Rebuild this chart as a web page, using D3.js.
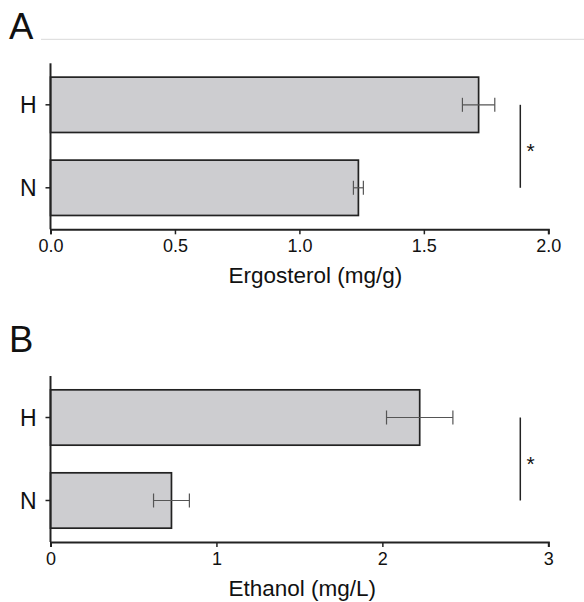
<!DOCTYPE html>
<html>
<head>
<meta charset="utf-8">
<script src="https://cdn.jsdelivr.net/npm/d3@7"></script>
<style>
  html, body { margin: 0; padding: 0; background: #fff; }
  svg { display: block; }
  text { font-family: "Liberation Sans", Arial, Helvetica, sans-serif; }
</style>
</head>
<body>
<svg id="chart" width="584" height="602"></svg>
<script>
// ---- data ----
const categories = ["H", "N"];
const ergosterol = [1.72, 1.237];
const ergosterolErr = [0.065, 0.02];
const ethanol = [2.225, 0.729];
const ethanolErr = [0.2, 0.108];
const ticksA = [0, 0.5, 1.0, 1.5, 2.0];
const ticksB = [0, 1, 2, 3];
const panelLabels = ["A", "B"];
const axisTitles = ["Ergosterol (mg/g)", "Ethanol (mg/L)"];
const sigMark = "*";

const svg = d3.select("#chart");
const ink = "#222";

const panels = [
  { label: panelLabels[0], values: ergosterol, errs: ergosterolErr, ticks: ticksA, fmt: d3.format(".1f"),
    domain: [0, 2], title: axisTitles[0], top: 63.3, rule: true },
  { label: panelLabels[1], values: ethanol, errs: ethanolErr, ticks: ticksB, fmt: d3.format("d"),
    domain: [0, 3], title: axisTitles[1], top: 376, rule: false }
];

const left = 50.5, right = 548.3, plotH = 166;

panels.forEach((p, i) => {
  const g = svg.append("g");
  const x = d3.scaleLinear().domain(p.domain).range([left, right]);
  const y = d3.scaleBand().domain(categories).range([p.top, p.top + plotH])
    .paddingInner(0.333).paddingOuter(0.1667);
  const bottom = p.top + plotH;

  // panel letter
  g.append("text").attr("x", 9).attr("y", p.top - 24.3)
    .attr("font-size", 36.5).attr("fill", "#111").text(p.label);
  if (p.rule) {
    g.append("line").attr("x1", 41).attr("x2", 584)
      .attr("y1", p.top - 24).attr("y2", p.top - 24)
      .attr("stroke", "#d9d9d9").attr("stroke-width", 1);
  }

  // bars
  g.selectAll("rect.bar").data(categories).join("rect")
    .attr("class", "bar")
    .attr("x", x(0))
    .attr("y", d => y(d))
    .attr("width", (d, k) => x(p.values[k]) - x(0))
    .attr("height", y.bandwidth())
    .attr("fill", "#cdcdd0")
    .attr("stroke", ink).attr("stroke-width", 1.7);

  // error bars
  const eb = g.selectAll("g.err").data(categories).join("g").attr("class", "err")
    .attr("stroke", "#555").attr("stroke-width", 1.2);
  eb.append("line")
    .attr("x1", (d, k) => x(p.values[k] - p.errs[k]))
    .attr("x2", (d, k) => x(p.values[k] + p.errs[k]))
    .attr("y1", d => y(d) + y.bandwidth() / 2)
    .attr("y2", d => y(d) + y.bandwidth() / 2);
  [-1, 1].forEach(s => {
    eb.append("line")
      .attr("x1", (d, k) => x(p.values[k] + s * p.errs[k]))
      .attr("x2", (d, k) => x(p.values[k] + s * p.errs[k]))
      .attr("y1", d => y(d) + y.bandwidth() / 2 - 7)
      .attr("y2", d => y(d) + y.bandwidth() / 2 + 7);
  });

  // axes
  const xAxis = d3.axisBottom(x).tickValues(p.ticks).tickFormat(p.fmt)
    .tickSizeOuter(0).tickSize(5).tickPadding(5);
  const xg = g.append("g").attr("transform", `translate(0,${bottom})`).call(xAxis);
  xg.select(".domain").attr("stroke", ink).attr("stroke-width", 2);
  xg.selectAll(".tick line").attr("stroke", ink).attr("stroke-width", 1.5);
  xg.selectAll(".tick text").attr("font-size", 18).attr("fill", "#111")
    .attr("font-family", "Liberation Sans, Arial, sans-serif").attr("dy", "0.71em");

  const yAxis = d3.axisLeft(y).tickSizeOuter(0).tickSize(5).tickPadding(9);
  const yg = g.append("g").attr("transform", `translate(${left},0)`).call(yAxis);
  yg.select(".domain").attr("d", `M0,${p.top}V${bottom}`).attr("stroke", ink).attr("stroke-width", 2);
  yg.selectAll(".tick line").attr("stroke", ink).attr("stroke-width", 1.5);
  yg.selectAll(".tick text").attr("font-size", 23).attr("fill", "#111")
    .attr("font-family", "Liberation Sans, Arial, sans-serif").attr("dy", "0.36em");

  // axis title
  g.append("text").attr("x", 228.5).attr("y", bottom + 53.5)
    .attr("font-size", 22.5).attr("fill", "#111").text(p.title);

  // significance bracket
  const ya = y(categories[0]) + y.bandwidth() / 2;
  const yb = y(categories[1]) + y.bandwidth() / 2;
  g.append("line").attr("x1", 520.3).attr("x2", 520.3)
    .attr("y1", ya).attr("y2", yb)
    .attr("stroke", ink).attr("stroke-width", 1.5);
  g.append("text").attr("x", 526.5).attr("y", (ya + yb) / 2 + 12)
    .attr("font-size", 21).attr("fill", "#111").text(sigMark);
});
</script>
</body>
</html>
